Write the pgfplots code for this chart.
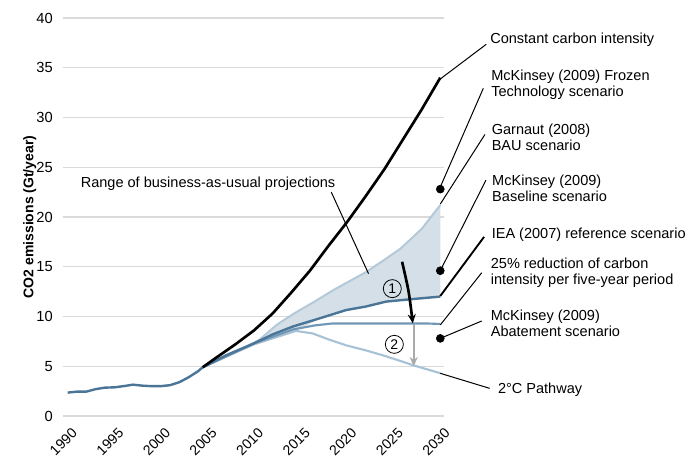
\documentclass[border=0pt]{standalone}
\usepackage{fontspec}
\setmainfont{Liberation Sans}
\usepackage{pgfplots}
\pgfplotsset{compat=1.18}
\usetikzlibrary{arrows.meta}
\definecolor{darkblue}{HTML}{4B7597}
\definecolor{midblue}{HTML}{7097B5}
\definecolor{upline}{HTML}{B3C9D9}
\definecolor{rangefill}{HTML}{D4DFE7}
\definecolor{twoc}{HTML}{A8C2D5}
\definecolor{gridgray}{HTML}{DADADA}
\definecolor{arrowgray}{HTML}{AAAAAA}
\newcommand{\annot}{\fontsize{10.9}{12}\selectfont}
\begin{document}
\begin{tikzpicture}
\useasboundingbox (-47.25pt,-30.75pt) rectangle (468.75pt,312pt);
\begin{axis}[
  at={(0,0)}, anchor=south west,
  scale only axis, width=285.75pt, height=298.5pt,
  xmin=1989.5, xmax=2030.4, ymin=0, ymax=40,
  clip=false,
  axis line style={draw=none},
  major tick length=0pt,
  xtick={1990,1995,...,2030}, ytick={0,5,...,40},
  ymajorgrids, grid style={color=gridgray, line width=1.1pt},
  /pgf/number format/assume math mode=true,
  /pgf/number format/1000 sep={},
  tick label style={font=\fontsize{11}{13}\selectfont},
  xticklabel style={xshift=2.5pt, yshift=-8pt, rotate=45, anchor=north east, inner sep=0pt, font=\fontsize{10.6}{12}\selectfont},
  yticklabel style={anchor=east, inner sep=0pt, xshift=-7.5pt},
  every axis y label/.style={at={(axis description cs:-0.087,0.5)}, rotate=90, anchor=center, font=\fontsize{10.5}{12}\selectfont\bfseries},
  ylabel={CO2 emissions (Gt/year)},
]
% range of BAU projections (between Garnaut upper bound and lower projections)
\addplot[fill=rangefill, draw=none] coordinates {
  (2004.5,4.9) (2008,6.4) (2010.5,7.6) (2012.5,9.2) (2014.3,10.3) (2016.5,11.5) (2018.6,12.7) (2022.1,14.5) (2024,15.7) (2025.7,16.8) (2028,18.8) (2030,21.2)
  (2030,12.0) (2027,11.75) (2024.2,11.5) (2019.9,10.65) (2017,9.8) (2015.5,9.0) (2014.5,8.6) (2012,8.0) (2010,7.2) (2004.5,4.9)} -- cycle;
% upper bound line
\addplot[upline, line width=1.5pt] coordinates {
  (2004.5,4.9) (2008,6.4) (2010.5,7.6) (2012.5,9.2) (2014.3,10.3) (2016.5,11.5) (2018.6,12.7) (2022.1,14.5) (2024,15.7) (2025.7,16.8) (2028,18.8) (2030,21.2)};
% 2C pathway
\addplot[twoc, line width=1.6pt] coordinates {
  (2004.5,4.9) (2010,7.2) (2014.5,8.55) (2016.3,8.3) (2018,7.7) (2019.9,7.1) (2022,6.6) (2024.2,6.0) (2027.1,5.1) (2030,4.3)};
% 25% reduction
\addplot[midblue, line width=1.6pt] coordinates {
  (2004.5,4.9) (2010,7.3) (2014.2,8.7) (2016.5,9.1) (2018.4,9.3) (2028.5,9.3) (2030,9.25)};
% IEA reference
\addplot[darkblue, line width=1.8pt] coordinates {
  (2004.5,4.9) (2007,6.1) (2010,7.3) (2012,8.2) (2014.2,9.0) (2017,9.8) (2019.9,10.65) (2022,11.0) (2024.2,11.5) (2027,11.75) (2030,12.0)};
% historical
\addplot[darkblue, line width=1.8pt] coordinates {
  (1990,2.35) (1991,2.45) (1992,2.45) (1993,2.7) (1994,2.85) (1995,2.88) (1996,3.0) (1997,3.15) (1998,3.05) (1999,3.0) (2000,3.0) (2001,3.1) (2002,3.4) (2003,3.9) (2004,4.5) (2004.5,4.9)};
% constant carbon intensity
\addplot[black, line width=2pt] coordinates {
  (2004.5,4.9) (2006,5.9) (2008,7.2) (2010,8.6) (2012,10.3) (2014,12.4) (2016,14.6) (2018,17.1) (2020,19.5) (2022,22.1) (2024,24.8) (2026,27.8) (2028,30.8) (2030,34.0)};
% arrows
\addplot[black, line width=2pt, smooth, -{Stealth[length=7pt,width=6pt]}] coordinates {
  (2025.9,15.5) (2026.6,12.5) (2027.05,9.3)};
\addplot[arrowgray, line width=1.8pt, -{Stealth[length=7pt,width=6pt]}] coordinates {
  (2027.15,9.2) (2027.15,5.0)};
% dots
\addplot[only marks, mark=*, mark size=3pt, black] coordinates {(2030,22.8) (2030,14.6) (2030,7.8)};
% circled numbers
\node[circle, draw, line width=0.6pt, inner sep=0pt, minimum size=13.5pt, font=\fontsize{10.5}{12}\selectfont] at (axis cs:2024.85,12.8) {1};
\node[circle, draw, line width=0.6pt, inner sep=0pt, minimum size=13.5pt, font=\fontsize{10.5}{12}\selectfont] at (axis cs:2025.07,7.2) {2};
% leader lines
\draw[line width=0.75pt] (axis cs:2030,33.87) -- (axis cs:2034.94,37.36);
\draw[line width=0.75pt] (axis cs:2029.9,22.8) -- (axis cs:2034.62,32.93);
\draw[line width=0.75pt] (axis cs:2030,21.3) -- (axis cs:2034.8,28.3);
\draw[line width=0.75pt] (axis cs:2030,14.6) -- (axis cs:2034.9,23.7);
\draw[line width=1.4pt] (axis cs:2030,12.06) -- (axis cs:2034.7,18.0);
\draw[line width=0.75pt] (axis cs:2030,9.15) -- (axis cs:2034.45,14.4);
\draw[line width=0.75pt] (axis cs:2030,7.8) -- (axis cs:2034.45,9.55);
\draw[line width=0.75pt] (axis cs:2030,4.29) -- (axis cs:2035.3,2.78);
\draw[line width=0.75pt] (axis cs:2018.3,22.5) -- (axis cs:2022.3,14.3);
% texts
\node[anchor=west, inner sep=0pt, font=\annot] at (axis cs:2035.34,37.79) {Constant carbon intensity};
\node[anchor=west, inner sep=0pt, align=left, font=\annot] at (axis cs:2035.45,33.3) {McKinsey (2009) Frozen\\Technology scenario};
\node[anchor=west, inner sep=0pt, align=left, font=\annot] at (axis cs:2035.5,28.04) {Garnaut (2008)\\BAU scenario};
\node[anchor=west, inner sep=0pt, align=left, font=\annot] at (axis cs:2035.55,22.9) {McKinsey (2009)\\Baseline scenario};
\node[anchor=west, inner sep=0pt, font=\annot] at (axis cs:2035.5,18.19) {IEA (2007) reference scenario};
\node[anchor=west, inner sep=0pt, align=left, font=\annot] at (axis cs:2035.4,14.37) {25\% reduction of carbon\\intensity per five-year period};
\node[anchor=west, inner sep=0pt, align=left, font=\annot] at (axis cs:2035.4,9.28) {McKinsey (2009)\\Abatement scenario};
\node[anchor=west, inner sep=0pt, font=\annot] at (axis cs:2036.17,2.68) {2°C Pathway};
\node[inner sep=0pt, font=\annot] at (axis cs:2005.07,23.3) {Range of business-as-usual projections};
\end{axis}
\end{tikzpicture}
\end{document}
